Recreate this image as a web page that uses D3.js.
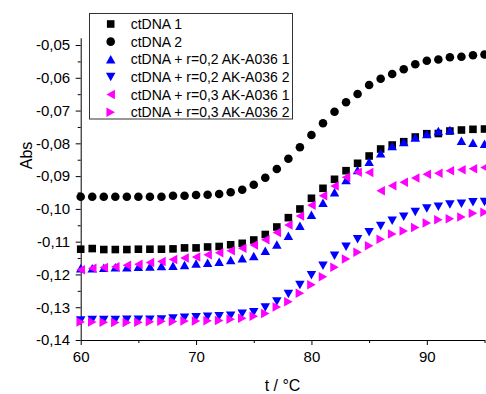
<!DOCTYPE html>
<html><head><meta charset="utf-8">
<script src="https://cdn.jsdelivr.net/npm/d3@7"></script>
<style>body{margin:0;background:#fff}svg{display:block;font-family:"Liberation Sans",Arial,sans-serif}</style>
</head><body><svg id="c" width="486" height="394"></svg>
<script>
const temperature = [60,61,62,63,64,65,66,67,68,69,70,71,72,73,74,75,76,77,78,79,80,81,82,83,84,85,86,87,88,89,90,91,92,93,94,95];
const ctDNA1 = [-0.1123,-0.1121,-0.1124,-0.1124,-0.1124,-0.1123,-0.1123,-0.1123,-0.1122,-0.1119,-0.1119,-0.11162,-0.11147,-0.11095,-0.1105,-0.10949,-0.10781,-0.10552,-0.10268,-0.10003,-0.09676,-0.09372,-0.09097,-0.08835,-0.08609,-0.08386,-0.08173,-0.08051,-0.0795,-0.07807,-0.07706,-0.077,-0.07624,-0.07593,-0.07572,-0.07563];
const ctDNA2 = [-0.09628,-0.09628,-0.09628,-0.09628,-0.09628,-0.09628,-0.09628,-0.09628,-0.09597,-0.09597,-0.09576,-0.09567,-0.09545,-0.09494,-0.09414,-0.09262,-0.09048,-0.08783,-0.08469,-0.08121,-0.07746,-0.07389,-0.07035,-0.06748,-0.06495,-0.0622,-0.06028,-0.05885,-0.05741,-0.05586,-0.05482,-0.05442,-0.05375,-0.05357,-0.05311,-0.0529];
const r02_1 = [-0.11812,-0.1181,-0.11794,-0.11782,-0.1178,-0.11763,-0.11757,-0.11742,-0.11733,-0.11711,-0.11666,-0.11641,-0.11611,-0.11559,-0.11507,-0.11437,-0.11278,-0.11086,-0.10818,-0.10513,-0.10177,-0.09811,-0.09494,-0.09118,-0.08813,-0.0856,-0.08304,-0.08081,-0.07959,-0.07822,-0.07715,-0.07624,-0.07593,-0.07923,-0.0798,-0.08011];
const r02_2 = [-0.13405,-0.13389,-0.13389,-0.13389,-0.13383,-0.13383,-0.1338,-0.13374,-0.13343,-0.13322,-0.13307,-0.13289,-0.13276,-0.13258,-0.132,-0.13154,-0.13008,-0.12825,-0.12596,-0.12322,-0.12026,-0.11733,-0.11428,-0.11153,-0.10928,-0.10714,-0.10522,-0.1036,-0.10238,-0.10095,-0.09988,-0.09933,-0.09866,-0.09841,-0.09799,-0.09789];
const r03_1 = [-0.11855,-0.11812,-0.11788,-0.11763,-0.11721,-0.11687,-0.11635,-0.11605,-0.11544,-0.11498,-0.11467,-0.11397,-0.11339,-0.11275,-0.11202,-0.11101,-0.1094,-0.1072,-0.10491,-0.10217,-0.0989,-0.09597,-0.09301,-0.09036,-0.0888,-0.0889,-0.09448,-0.09292,-0.09189,-0.09057,-0.08945,-0.08914,-0.08838,-0.08804,-0.08774,-0.08737];
const r03_2 = [-0.1345,-0.1345,-0.13459,-0.13465,-0.13465,-0.13459,-0.13441,-0.13429,-0.13435,-0.1342,-0.1342,-0.13414,-0.13405,-0.13365,-0.13338,-0.13276,-0.13191,-0.12993,-0.12831,-0.12575,-0.12312,-0.12068,-0.11782,-0.11528,-0.11324,-0.11123,-0.10927,-0.10766,-0.10674,-0.10567,-0.1043,-0.10329,-0.10299,-0.10247,-0.10134,-0.10101];
const seriesNames = ["ctDNA 1","ctDNA 2","ctDNA + r=0,2 AK-A036 1","ctDNA + r=0,2 AK-A036 2","ctDNA + r=0,3 AK-A036 1","ctDNA + r=0,3 AK-A036 2"];
const seriesValues = [ctDNA1, ctDNA2, r02_1, r02_2, r03_1, r03_2];
const seriesColors = ["#000000","#000000","#0000ff","#0000ff","#ff00ff","#ff00ff"];
const seriesShapes = ["square","circle","up","down","left","right"];
const xTicks = [60,70,80,90];
const xMinorTicks = [65,75,85,95];
const yTicks = [-0.05,-0.06,-0.07,-0.08,-0.09,-0.10,-0.11,-0.12,-0.13,-0.14];
const yMinorTicks = [-0.055,-0.065,-0.075,-0.085,-0.095,-0.105,-0.115,-0.125,-0.135];

const svg = d3.select("#c");
const x = d3.scaleLinear().domain([60,95]).range([80.7,484.5]);
const y = d3.scaleLinear().domain([-0.0478,-0.14]).range([37.8,340]);
const fmt = d => "-" + d3.format(".2f")(Math.abs(d)).replace(".", ",");

// axes
svg.append("g").attr("transform","translate(0,340)")
  .call(d3.axisBottom(x).tickValues(xTicks).tickSize(5).tickSizeOuter(0).tickPadding(6.3).tickFormat(d3.format("d")));
svg.append("g").attr("transform","translate(0,340)")
  .call(d3.axisBottom(x).tickValues(xMinorTicks).tickSize(3).tickSizeOuter(0).tickFormat(""))
  .select(".domain").remove();
svg.append("g").attr("transform","translate(80.7,0)")
  .call(d3.axisLeft(y).tickValues(yTicks).tickSize(5).tickSizeOuter(0).tickPadding(5.5).tickFormat(fmt));
svg.append("g").attr("transform","translate(80.7,0)")
  .call(d3.axisLeft(y).tickValues(yMinorTicks).tickSize(3).tickSizeOuter(0).tickFormat(""))
  .select(".domain").remove();
svg.selectAll(".tick text").attr("font-size",15).attr("font-family","Liberation Sans, Arial, sans-serif").attr("fill","#000");
svg.selectAll(".domain, .tick line").attr("stroke","#000").attr("stroke-width",1);

// titles
svg.append("text").attr("x",282.5).attr("y",391).attr("text-anchor","middle")
  .attr("font-size",16).text("t / °C");
svg.append("text").attr("transform","translate(32,155.5) rotate(-90)").attr("text-anchor","middle")
  .attr("font-size",16).text("Abs");

// symbol types
const W = 9.5, H = 8.5;
const shapes = {
  square: {draw(c){ const s=3.8; c.moveTo(-s,-s); c.lineTo(s,-s); c.lineTo(s,s); c.lineTo(-s,s); c.closePath(); }},
  circle: {draw(c){ c.moveTo(4.3,0); c.arc(0,0,4.3,0,2*Math.PI); }},
  up: {draw(c){ c.moveTo(0,-H/2); c.lineTo(W/2,H/2); c.lineTo(-W/2,H/2); c.closePath(); }},
  down: {draw(c){ c.moveTo(0,H/2); c.lineTo(W/2,-H/2); c.lineTo(-W/2,-H/2); c.closePath(); }},
  left: {draw(c){ c.moveTo(-H/2,0); c.lineTo(H/2,-W/2); c.lineTo(H/2,W/2); c.closePath(); }},
  right: {draw(c){ c.moveTo(H/2,0); c.lineTo(-H/2,-W/2); c.lineTo(-H/2,W/2); c.closePath(); }}
};

seriesValues.forEach((vals, i) => {
  const sym = d3.symbol().type(shapes[seriesShapes[i]]);
  svg.append("g").selectAll("path").data(vals).join("path")
    .attr("d", sym)
    .attr("transform", (d, j) => `translate(${x(temperature[j])},${y(d)})`)
    .attr("fill", seriesColors[i]);
});

// legend
const lg = svg.append("g");
lg.append("rect").attr("x",89.5).attr("y",13.5).attr("width",203).attr("height",105.5)
  .attr("fill","#fff").attr("stroke","#333").attr("stroke-width",1);
seriesNames.forEach((n, i) => {
  const cy = 24 + i*17.65;
  lg.append("path").attr("d", d3.symbol().type(shapes[seriesShapes[i]])())
    .attr("transform", `translate(110.7,${cy})`).attr("fill", seriesColors[i]);
  lg.append("text").attr("x",130.7).attr("y",cy+5).attr("font-size",14).text(n);
});
</script></body></html>
